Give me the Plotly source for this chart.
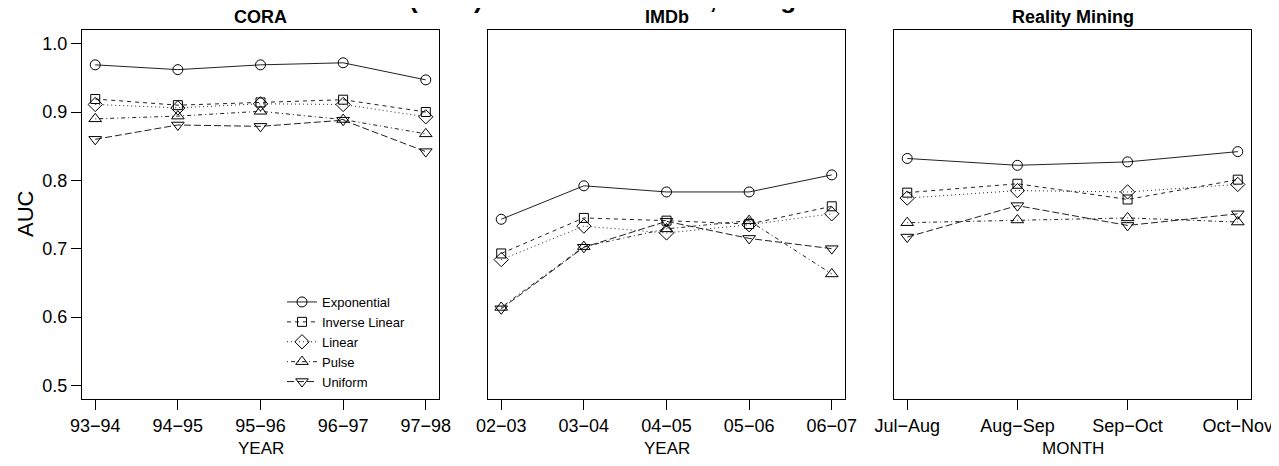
import plotly.graph_objects as go

# ---------------- data ----------------
cora_labels = ["93−94", "94−95", "95−96", "96−97", "97−98"]
imdb_labels = ["02−03", "03−04", "04−05", "05−06", "06−07"]
rm_labels = ["Jul−Aug", "Aug−Sep", "Sep−Oct", "Oct−Nov"]

series_names = ["Exponential", "Inverse Linear", "Linear", "Pulse", "Uniform"]

cora_exponential = [0.969, 0.962, 0.969, 0.972, 0.947]
cora_inverse_linear = [0.919, 0.910, 0.914, 0.918, 0.900]
cora_linear = [0.911, 0.906, 0.912, 0.911, 0.893]
cora_pulse = [0.890, 0.894, 0.901, 0.889, 0.868]
cora_uniform = [0.860, 0.881, 0.879, 0.888, 0.842]

imdb_exponential = [0.743, 0.792, 0.783, 0.783, 0.808]
imdb_inverse_linear = [0.693, 0.745, 0.741, 0.736, 0.762]
imdb_linear = [0.684, 0.733, 0.723, 0.735, 0.751]
imdb_pulse = [0.614, 0.703, 0.729, 0.741, 0.663]
imdb_uniform = [0.612, 0.702, 0.740, 0.715, 0.700]

rm_exponential = [0.832, 0.822, 0.827, 0.842]
rm_inverse_linear = [0.782, 0.795, 0.772, 0.801]
rm_linear = [0.774, 0.785, 0.783, 0.794]
rm_pulse = [0.738, 0.742, 0.745, 0.739]
rm_uniform = [0.717, 0.763, 0.734, 0.751]

panel_titles = ["CORA", "IMDb", "Reality Mining"]
panel_xlabels = ["YEAR", "YEAR", "MONTH"]
y_ticks = [0.5, 0.6, 0.7, 0.8, 0.9, 1.0]

# ---------------- styling ----------------
FONT = "Liberation Sans, Arial, Helvetica, sans-serif"
symbols = ["circle-open", "square-open", "diamond-open", "triangle-up-open", "triangle-down-open"]
dashes = ["solid", "4px,4px", "1px,3px", "1px,3px,4px,3px", "7px,3px"]
msizes = [10, 9, 11, 11, 11]

panels = [
    (cora_labels, [cora_exponential, cora_inverse_linear, cora_linear, cora_pulse, cora_uniform]),
    (imdb_labels, [imdb_exponential, imdb_inverse_linear, imdb_linear, imdb_pulse, imdb_uniform]),
    (rm_labels, [rm_exponential, rm_inverse_linear, rm_linear, rm_pulse, rm_uniform]),
]

# the page body has an 8px margin: work in page pixels and convert
OFF = 8
W, H = 1279 - OFF, 466 - OFF
ML, MT = 82 - OFF, 30 - OFF
MR = W - (1251 - OFF)
MB = H - (399 - OFF)
PW = W - ML - MR
PH = H - MT - MB

def px_x(p):
    return (p - OFF - ML) / PW

def px_y(p):
    return (H - MB - (p - OFF)) / PH

domains = [[px_x(82), px_x(439)], [px_x(488), px_x(845)], [px_x(894), px_x(1251)]]

fig = go.Figure()

for pi, (labels, series) in enumerate(panels):
    xs = list(range(1, len(labels) + 1))
    xa = "x" if pi == 0 else f"x{pi+1}"
    ya = "y" if pi == 0 else f"y{pi+1}"
    for si, vals in enumerate(series):
        fig.add_trace(go.Scatter(
            x=xs, y=vals, mode="lines+markers", name=series_names[si],
            xaxis=xa, yaxis=ya, showlegend=(pi == 0),
            line=dict(color="#222222", width=1, dash=dashes[si]),
            marker=dict(symbol=symbols[si], size=msizes[si], color="black",
                        line=dict(color="black", width=1)),
        ))
    n = len(labels)
    pad = 0.04 * (n - 1)
    axkey = "xaxis" if pi == 0 else f"xaxis{pi+1}"
    aykey = "yaxis" if pi == 0 else f"yaxis{pi+1}"
    fig.layout[axkey] = dict(
        domain=domains[pi], range=[1 - pad, n + pad], anchor=ya,
        tickvals=xs, ticktext=labels, ticks="outside", ticklen=10,
        tickcolor="black", tickwidth=1, showline=True, linecolor="black",
        linewidth=1, mirror=True, showgrid=False, zeroline=False,
        automargin=False,
        tickfont=dict(family=FONT, size=18, color="black"),
    )
    fig.layout[aykey] = dict(
        domain=[0, 1], range=[0.48, 1.02], anchor=xa,
        tickvals=y_ticks, ticktext=[f"{v:.1f}" for v in y_ticks],
        ticks="outside" if pi == 0 else "", ticklen=10, tickcolor="black",
        showticklabels=(pi == 0), showline=True, linecolor="black",
        linewidth=1, mirror=True, showgrid=False, zeroline=False,
        automargin=False,
        tickfont=dict(family=FONT, size=18, color="black"),
    )
    cx = (domains[pi][0] + domains[pi][1]) / 2
    fig.add_annotation(x=cx, y=px_y(17), xref="paper", yref="paper",
                       text=f"<b>{panel_titles[pi]}</b>", showarrow=False,
                       xanchor="center", yanchor="middle",
                       font=dict(family=FONT, size=18, color="black"))
    fig.add_annotation(x=cx, y=px_y(448), xref="paper", yref="paper",
                       text=panel_xlabels[pi], showarrow=False,
                       xanchor="center", yanchor="middle",
                       font=dict(family=FONT, size=17, color="black"))

fig.add_annotation(x=px_x(25), y=px_y(214), xref="paper", yref="paper",
                   text="AUC", textangle=-90, showarrow=False,
                   xanchor="center", yanchor="middle",
                   font=dict(family=FONT, size=22, color="black"))

# main title (mostly outside the top edge, as in the reference)
fig.add_annotation(x=px_x(654), y=px_y(16), xref="paper", yref="paper",
                   text="<b>(AUC) of Link Prediction, Using Kernels</b>", showarrow=False,
                   xanchor="center", yanchor="bottom",
                   font=dict(family=FONT, size=26, color="black"))

fig.update_layout(
    width=W, height=H,
    margin=dict(l=ML, r=MR, t=MT, b=MB, autoexpand=False),
    paper_bgcolor="white", plot_bgcolor="white",
    font=dict(family=FONT, color="black"),
    legend=dict(x=px_x(282), y=px_y(287), xanchor="left", yanchor="top",
                bgcolor="rgba(0,0,0,0)", borderwidth=0,
                font=dict(family=FONT, size=13, color="black"),
                tracegroupgap=0, itemwidth=30),
)

fig.write_html("out.html")
